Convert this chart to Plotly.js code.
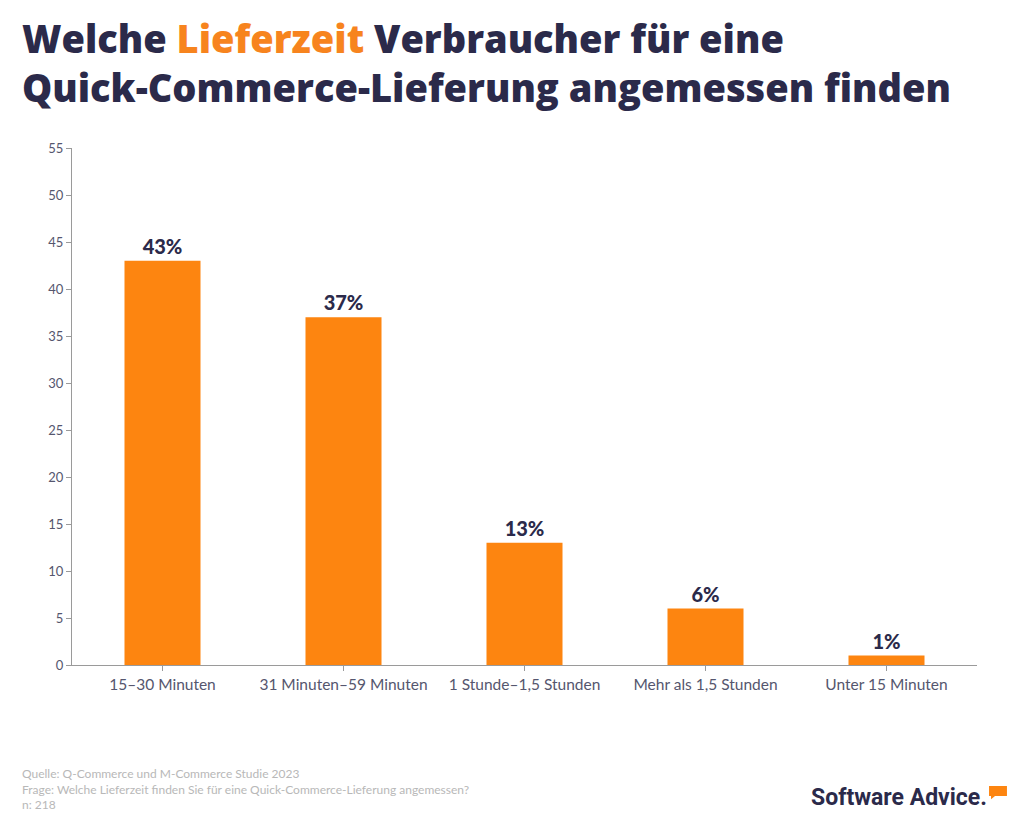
<!DOCTYPE html>
<html>
<head>
<meta charset="utf-8">
<script src="https://cdn.plot.ly/plotly-3.0.1.min.js"></script>
<style>
  html, body { margin: 0; padding: 0; background: #fff; }
  #chart { width: 1024px; height: 836px; }
</style>
</head>
<body>
<div id="chart"></div>
<script>
// Lieferzeit categories and share of respondents (%)
const categories = ['15–30 Minuten', '31 Minuten–59 Minuten', '1 Stunde–1,5 Stunden', 'Mehr als 1,5 Stunden', 'Unter 15 Minuten'];
const shares = [43, 37, 13, 6, 1];
const yTicks = [0, 5, 10, 15, 20, 25, 30, 35, 40, 45, 50, 55];

const navy = '#2b2a4a';
const orange = '#fd8510';
const axisGrey = '#9a9a9a';
const tickGrey = '#55566e';

const bars = {
  type: 'bar',
  x: categories,
  y: shares,
  marker: { color: orange },
  text: shares.map(v => v + '%'),
  textposition: 'outside',
  cliponaxis: false,
  textfont: { family: 'Lato, sans-serif', size: 20, color: navy, weight: 900 },
  hoverinfo: 'x+y'
};

const layout = {
  width: 1024,
  height: 836,
  margin: { l: 72, r: 47, t: 148, b: 171 },
  paper_bgcolor: '#fff',
  plot_bgcolor: '#fff',
  bargap: 0.58,
  showlegend: false,
  font: { family: 'Lato, sans-serif', color: tickGrey },
  xaxis: {
    showline: true,
    linecolor: axisGrey,
    linewidth: 1,
    ticks: 'outside',
    ticklen: 5,
    tickcolor: axisGrey,
    tickfont: { size: 15.5, color: tickGrey },
    showgrid: false,
    zeroline: false
  },
  yaxis: {
    range: [0, 55],
    tickvals: yTicks,
    showline: true,
    linecolor: axisGrey,
    linewidth: 1,
    ticks: 'outside',
    ticklen: 5,
    tickcolor: axisGrey,
    tickfont: { size: 13, color: tickGrey },
    showgrid: false,
    zeroline: false
  },
  annotations: [
    {
      xref: 'paper', yref: 'paper', x: -0.058, y: 1.166,
      xanchor: 'left', yanchor: 'middle', align: 'left', showarrow: false,
      text: 'Welche <span style="color:#f7841e">Lieferzeit</span> Verbraucher für eine<br>Quick-Commerce-Lieferung angemessen finden',
      font: { family: '"Open Sans", sans-serif', size: 38, color: navy, weight: 800 }
    },
    {
      xref: 'paper', yref: 'paper', x: -0.057, y: -0.191,
      xanchor: 'left', yanchor: 'top', align: 'left', showarrow: false,
      text: 'Quelle: Q-Commerce und M-Commerce Studie 2023<br>Frage: Welche Lieferzeit finden Sie für eine Quick-Commerce-Lieferung angemessen?<br>n: 218',
      font: { family: 'Lato, sans-serif', size: 12, color: '#b8b8b8' }
    },
    {
      xref: 'paper', yref: 'paper', x: 1.013, y: -0.257,
      xanchor: 'right', yanchor: 'middle', showarrow: false,
      text: '<b>Software Advice.</b>',
      font: { family: 'Roboto, sans-serif', size: 23, color: navy }
    }
  ],
  shapes: [
    {
      type: 'path', xref: 'paper', yref: 'paper',
      path: 'M 1.0133 -0.234 L 1.0331 -0.234 L 1.0331 -0.2534 L 1.0199 -0.2534 L 1.0155 -0.2595 L 1.0155 -0.2534 L 1.0133 -0.2534 Z',
      fillcolor: orange, line: { width: 0 }
    }
  ]
};

Plotly.newPlot('chart', [bars], layout, { displayModeBar: false, staticPlot: true });
</script>
</body>
</html>
